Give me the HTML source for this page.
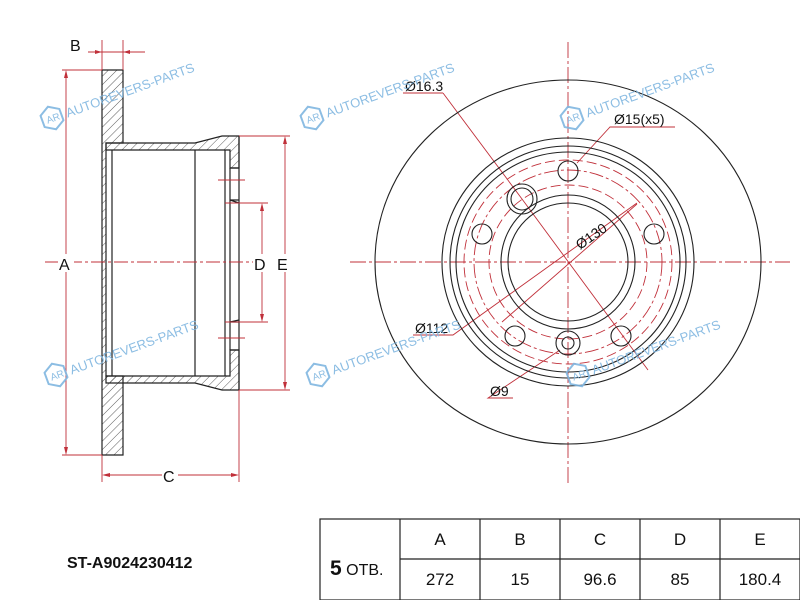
<!DOCTYPE html>
<html><head><meta charset="utf-8"><style>
body{margin:0;background:#fff;width:800px;height:600px;overflow:hidden}
svg{position:absolute;left:0;top:0}
.t{font-family:"Liberation Sans",sans-serif}
</style></head><body>
<svg width="800" height="600" viewBox="0 0 800 600">
<defs>
<pattern id="h" patternUnits="userSpaceOnUse" width="6" height="6" patternTransform="rotate(45)">
<line x1="0" y1="0" x2="0" y2="6" stroke="#333" stroke-width="0.8"/>
</pattern>
<g id="wm">
<path d="M0,-12 L10,-6 L10,6 L0,12 L-10,6 L-10,-6Z" fill="none" stroke="#7fb6e0" stroke-width="2"/>
<text x="-6" y="4" font-size="10" fill="#7fb6e0" class="t">AR</text>
<text x="15" y="5" font-size="13" fill="#7fb6e0" class="t">AUTOREVERS-PARTS</text>
</g>
</defs>
<g stroke="#222" stroke-width="1.2" fill="none">
<path d="M102,70 H123 V143 H106 V376 H123 V455 H102 Z" fill="url(#h)"/>
<path d="M123,143 H195 L222,136 H239 V168 H230 V150 H106 V143 Z" fill="url(#h)"/>
<path d="M123,383 H195 L222,390 H239 V350 H230 V376 H106 V383 Z" fill="url(#h)"/>
<line x1="112" y1="150" x2="112" y2="376"/>
<line x1="195" y1="150" x2="195" y2="376"/>
<line x1="225" y1="150" x2="225" y2="376"/>
<line x1="230" y1="168" x2="230" y2="350"/>
<line x1="239" y1="136" x2="239" y2="390"/>
<line x1="230" y1="200" x2="239" y2="203"/><line x1="230" y1="322" x2="239" y2="320"/>
<path d="M230,168 H239 M230,200 H239 M230,322 H239 M230,350 H239"/>
</g>
<g stroke="#c0303a" stroke-width="0.9" fill="none">
<path d="M45,262 H290" stroke-dasharray="14,3,3,3"/>
<path d="M62,70 H102 M62,455 H102 M66,72 V453"/>
<path d="M102,40 V70 M123,40 V70 M88,52 H145"/>
<path d="M102,455 V482 M239,390 V482 M104,475 H237"/>
<path d="M225,203 H268 M225,322 H268 M262,205 V320"/>
<path d="M239,136 H290 M239,390 H290 M285,138 V388"/>
<path d="M218,180 H245 M218,338 H245"/>
</g>
<g fill="#c0303a">
<path d="M66,70 l-2,8 h4z M66,455 l-2,-8 h4z M102,52 l-7,-2 v4z M123,52 l7,-2 v4z M102,475 l8,-2 v4z M239,475 l-8,-2 v4z M262,203 l-2,8 h4z M262,322 l-2,-8 h4z M285,136 l-2,8 h4z M285,390 l-2,-8 h4z"/>
</g>
<g class="t" font-size="16" fill="#111">
<rect x="58" y="254" width="16" height="18" fill="#fff"/><text x="59" y="270">A</text>
<text x="70" y="51">B</text>
<rect x="162" y="466" width="16" height="18" fill="#fff"/><text x="163" y="482">C</text>
<rect x="253" y="254" width="40" height="18" fill="#fff"/><text x="254" y="270">D</text><text x="277" y="270">E</text>
</g>
<g stroke="#c0303a" stroke-width="0.9" fill="none">
<path d="M350,262 H790 M568,42 V485" stroke-dasharray="16,3,3,3"/>
<ellipse cx="568" cy="262" rx="79" ry="77" stroke-dasharray="10,4"/>
<ellipse cx="568" cy="262" rx="94" ry="92" stroke-dasharray="14,3,3,3"/>
<ellipse cx="568" cy="262" rx="104" ry="102" stroke-dasharray="10,4"/>
<path d="M443,93 H403 M443,93 L522,199 L648,370" />
<path d="M675,127 H610 L577,163"/>
<path d="M413,335 H453 L637,203"/>
<path d="M502,322 L637,204"/>
<path d="M513,398 H488 L560,350"/>
</g>
<g stroke="#222" stroke-width="1.1" fill="none">
<ellipse cx="568" cy="262" rx="193" ry="182"/>
<ellipse cx="568" cy="262" rx="126" ry="124"/>
<ellipse cx="568" cy="262" rx="118" ry="116"/>
<ellipse cx="568" cy="262" rx="112" ry="110"/>
<ellipse cx="568" cy="262" rx="67" ry="67"/>
<ellipse cx="568" cy="262" rx="60" ry="59"/>
<circle cx="568" cy="171" r="10"/>
<circle cx="654" cy="234" r="10"/>
<circle cx="482" cy="234" r="10"/>
<circle cx="515" cy="336" r="10"/>
<circle cx="621" cy="336" r="10"/>
<circle cx="522" cy="199" r="15"/><circle cx="522" cy="199" r="11"/>
<circle cx="568" cy="343" r="12"/><circle cx="568" cy="343" r="6"/>
</g>
<g class="t" font-size="14" fill="#111">
<text x="405" y="91">Ø16.3</text>
<text x="614" y="124">Ø15(x5)</text>
<text x="415" y="333">Ø112</text>
<text x="490" y="396">Ø9</text>
<text x="580" y="250" transform="rotate(-35 580 250)">Ø130</text>
</g>
<g opacity="0.9">
<use href="#wm" transform="translate(52,118) rotate(-20)"/>
<use href="#wm" transform="translate(56,375) rotate(-20)"/>
<use href="#wm" transform="translate(312,118) rotate(-20)"/>
<use href="#wm" transform="translate(318,375) rotate(-20)"/>
<use href="#wm" transform="translate(572,118) rotate(-20)"/>
<use href="#wm" transform="translate(578,375) rotate(-20)"/>
</g>
<text x="67" y="568" class="t" font-size="16" font-weight="bold" fill="#111">ST-A9024230412</text>
<g stroke="#222" stroke-width="1.2" fill="none">
<rect x="320" y="519" width="480" height="81"/>
<path d="M400,519 V600 M480,519 V600 M560,519 V600 M640,519 V600 M720,519 V600 M400,559 H800"/>
</g>
<g class="t" font-size="17" fill="#111" text-anchor="middle">
<text x="440" y="545">A</text><text x="520" y="545">B</text><text x="600" y="545">C</text><text x="680" y="545">D</text><text x="760" y="545">E</text>
<text x="440" y="585">272</text><text x="520" y="585">15</text><text x="600" y="585">96.6</text><text x="680" y="585">85</text><text x="760" y="585">180.4</text>
</g>
<text x="330" y="575" class="t" fill="#111"><tspan font-size="21" font-weight="bold">5</tspan><tspan font-size="16"> ОТВ.</tspan></text>
</svg>
</body></html>
